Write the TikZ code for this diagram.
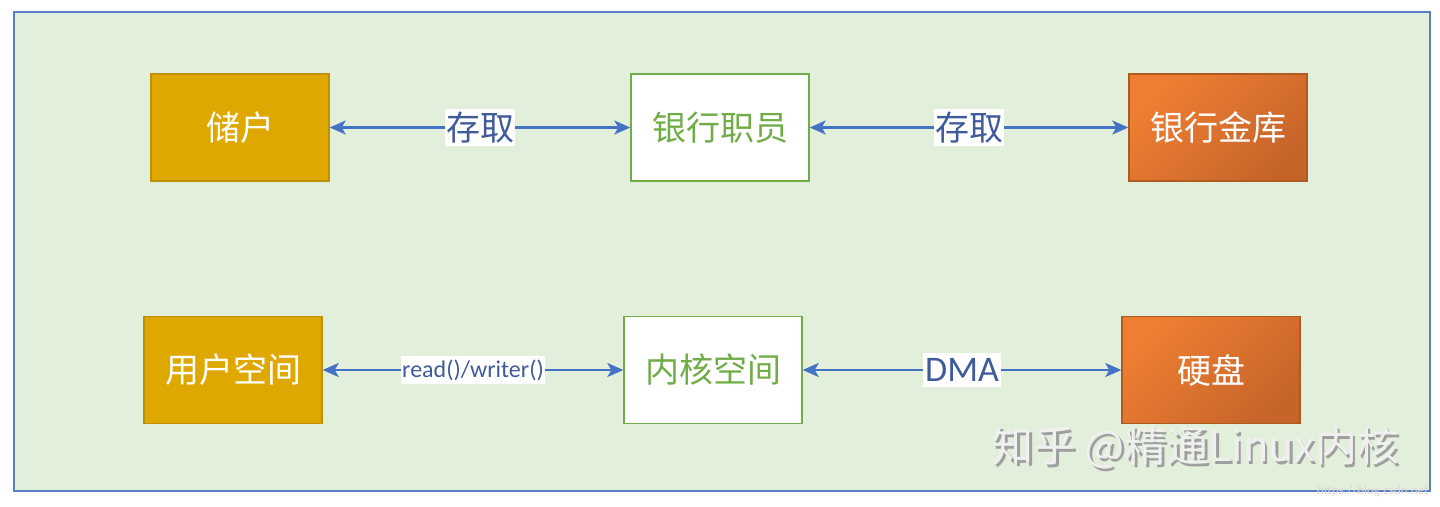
\documentclass[tikz,border=0pt]{standalone}
\usepackage{fontspec}
\setmainfont{Carlito}
\newfontfamily\cjk{Noto Sans CJK SC}
\usetikzlibrary{arrows.meta,shadings}
\definecolor{bgg}{HTML}{E2EFDA}
\definecolor{frameblue}{HTML}{5B7FC4}
\definecolor{arrblue}{HTML}{4472C4}
\definecolor{labblue}{HTML}{3F5B9A}
\definecolor{goldf}{HTML}{DFA800}
\definecolor{goldd}{HTML}{BF9000}
\definecolor{grn}{HTML}{70AD47}
\definecolor{orl}{HTML}{EE7F32}
\definecolor{ord}{HTML}{C7642A}
\definecolor{ordd}{HTML}{AE5A21}
\tikzset{
  box/.style={rectangle, minimum width=178pt, minimum height=107pt, line width=1.4pt, inner sep=0pt,
    font=\cjk\fontsize{34}{40}\selectfont},
  goldbox/.style={box, fill=goldf, draw=goldd, text=white},
  whitebox/.style={box, fill=white, draw=grn, text=grn},
  orbox/.style={box, draw=ordd, text=white, left color=orl, right color=ord, shading angle=45},
  arr/.style={draw=arrblue, line width=2.2pt, {Stealth[length=16pt,width=14pt,inset=4pt]}-{Stealth[length=16pt,width=14pt,inset=4pt]}},
  lbl/.style={fill=white, text=labblue, inner xsep=1pt, inner ysep=3pt},
  cjklbl/.style={lbl, font=\cjk\fontsize{34}{40}\selectfont},
}
\begin{document}
\begin{tikzpicture}[x=1pt,y=-1pt]
\useasboundingbox (0,0) rectangle (1440,506);
\fill[white] (0,0) rectangle (1440,506);
\filldraw[fill=bgg, draw=frameblue, line width=1.6pt] (14,12) rectangle (1430,491);

\node[goldbox]  (chu) at (240,127.5) {储户};
\node[whitebox] (zhi) at (720,127.5) {银行职员};
\node[orbox]    (ku)  at (1218,127.5) {银行金库};

\node[goldbox]  (user) at (233,370) {用户空间};
\node[whitebox] (kern) at (713,370) {内核空间};
\node[orbox]    (disk) at (1211,370) {硬盘};

\draw[arr] (chu.east) -- node[cjklbl] (l1) {存取} (zhi.west);
\draw[arr] (zhi.east) -- node[cjklbl] (l2) {存取} (ku.west);
\draw[arr] (user.east) -- node[lbl, font=\fontsize{24}{28}\selectfont, inner ysep=4pt] (l3) {read()/writer()} (kern.west);
\draw[arr] (kern.east) -- node[lbl, font=\fontsize{36}{40}\selectfont, inner xsep=2pt, inner ysep=5pt] (l4) {DMA} (disk.west);

\node[font=\cjk\fontsize{42}{46}\selectfont, text=gray!75, anchor=west] (wms) at (990.5,450) {知乎 @精通Linux内核};
\node[font=\cjk\fontsize{42}{46}\selectfont, text=white!94!black, anchor=west] (wm) at (988,447.5) {知乎 @精通Linux内核};
\node[font=\fontsize{13}{14}\selectfont, text=white!85!black, anchor=east] (url) at (1432,491) {https://blog.csdn.net};
\end{tikzpicture}
\end{document}
